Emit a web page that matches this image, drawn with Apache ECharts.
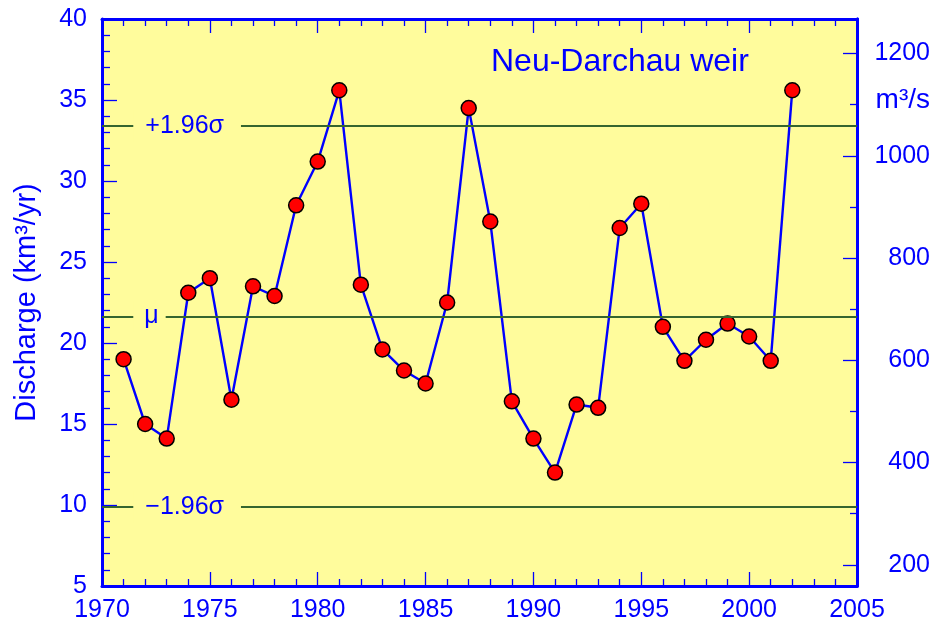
<!DOCTYPE html>
<html>
<head>
<meta charset="utf-8">
<script src="https://cdn.jsdelivr.net/npm/echarts@6/dist/echarts.min.js"></script>
<style>
  html, body { margin: 0; padding: 0; background: #ffffff; }
  #chart { width: 934px; height: 623px; }
</style>
</head>
<body>
<div id="chart"></div>
<script>
// Annual discharge of the Elbe at the Neu-Darchau weir (km³/yr)
const years = [1971, 1972, 1973, 1974, 1975, 1976, 1977, 1978, 1979, 1980,
               1981, 1982, 1983, 1984, 1985, 1986, 1987, 1988, 1989, 1990,
               1991, 1992, 1993, 1994, 1995, 1996, 1997, 1998, 1999, 2000,
               2001, 2002];
const discharge = [19.0, 15.0, 14.1, 23.1, 24.0, 16.5, 23.5, 22.9, 28.5, 31.2,
                   35.6, 23.6, 19.6, 18.3, 17.5, 22.5, 34.5, 27.5, 16.4, 14.1,
                   12.0, 16.2, 16.0, 27.1, 28.6, 21.0, 18.9, 20.2, 21.2, 20.4,
                   18.9, 35.6];

// Long-term mean and ±1.96σ bounds
const refLevels = [33.40, 21.64, 9.88];
const refNames = ['+1.96σ', 'μ', '−1.96σ'];
const refLabelYear = 1971.45;

// Axis ranges
const xMin = 1970, xMax = 2005, xStep = 5;
const yMin = 5, yMax = 40, yStep = 5;
// 1 km³/yr expressed in m³/s
const KM3YR_TO_M3S = 1e9 / (365.25 * 86400);
const flowMajorTicks = [200, 400, 600, 800, 1000, 1200];
const flowMinorTicks = [300, 500, 700, 900, 1100];
const flowUnitAt = 1100;

const BLUE = '#0000ff';
const PLOT_BG = '#fffc9c';
const FONT = '"Liberation Sans", Arial, Helvetica, sans-serif';
const plain = v => String(Math.round(v));

const chart = echarts.init(document.getElementById('chart'), null, { renderer: 'canvas' });

const xCommon = {
  type: 'value', min: xMin, max: xMax, interval: xStep,
  axisLine: { show: true, onZero: false, lineStyle: { color: BLUE, width: 3 } },
  axisTick: { show: true, inside: true, length: 14, lineStyle: { color: BLUE, width: 1.3 } },
  minorTick: { show: true, splitNumber: 5, length: 7, lineStyle: { color: BLUE, width: 1.3 } },
  splitLine: { show: false }, minorSplitLine: { show: false }
};

const flowAxisBase = {
  type: 'value', position: 'right',
  min: yMin * KM3YR_TO_M3S, max: yMax * KM3YR_TO_M3S,
  axisLine: { show: true, onZero: false, lineStyle: { color: BLUE, width: 3 } },
  splitLine: { show: false }
};

chart.setOption({
  animation: false,
  backgroundColor: '#ffffff',
  title: {
    text: 'Neu-Darchau weir',
    left: 486, top: 41,
    textStyle: { color: BLUE, fontSize: 32, fontWeight: 'normal', fontFamily: FONT }
  },
  grid: {
    left: 102, right: 77, top: 19, bottom: 37,
    show: true, backgroundColor: PLOT_BG, borderWidth: 0,
    containLabel: false, outerBoundsMode: 'none'
  },
  xAxis: [
    Object.assign({}, xCommon, {
      position: 'bottom',
      axisLabel: { show: true, color: BLUE, fontSize: 25, fontFamily: FONT, margin: 12, formatter: plain }
    }),
    Object.assign({}, xCommon, {
      position: 'top',
      axisLabel: { show: false }
    })
  ],
  yAxis: [
    {
      type: 'value', position: 'left', min: yMin, max: yMax, interval: yStep,
      name: 'Discharge (km³/yr)', nameLocation: 'middle', nameRotate: 90, nameGap: 61,
      nameTextStyle: { color: BLUE, fontSize: 29, fontFamily: FONT },
      axisLine: { show: true, onZero: false, lineStyle: { color: BLUE, width: 3 } },
      axisTick: { show: true, inside: true, length: 15, lineStyle: { color: BLUE, width: 1.3 } },
      minorTick: { show: true, splitNumber: 5, length: 8, lineStyle: { color: BLUE, width: 1.3 } },
      axisLabel: { show: true, color: BLUE, fontSize: 25, fontFamily: FONT, margin: 15, formatter: plain },
      splitLine: { show: false }, minorSplitLine: { show: false }
    },
    Object.assign({}, flowAxisBase, {
      axisTick: { show: true, inside: true, length: 14, customValues: flowMajorTicks,
                  lineStyle: { color: BLUE, width: 1.3 } },
      axisLabel: { show: true, customValues: flowMajorTicks, color: BLUE, fontSize: 25,
                   fontFamily: FONT, align: 'right', margin: 73, formatter: plain }
    }),
    Object.assign({}, flowAxisBase, {
      axisTick: { show: true, inside: true, length: 7, customValues: flowMinorTicks,
                  lineStyle: { color: BLUE, width: 1.3 } },
      axisLabel: {
        show: true, customValues: [flowUnitAt], align: 'right', margin: 73,
        formatter: () => '{u|m³/s}',
        rich: { u: { color: BLUE, fontSize: 28, fontFamily: FONT, padding: [0, 0, 8, 0] } }
      }
    })
  ],
  series: [
    {
      // reference levels
      type: 'line', data: [], z: 1, silent: true,
      markLine: {
        silent: true, symbol: 'none', animation: false,
        label: { show: false },
        lineStyle: { color: '#35652f', width: 2.2, type: 'solid' },
        data: refLevels.map(v => ({ yAxis: v }))
      }
    },
    {
      // labels sitting in gaps of the reference lines
      type: 'scatter', z: 6, silent: true,
      symbol: 'rect', symbolSize: 1,
      itemStyle: { color: 'transparent', opacity: 1 },
      data: refLevels.map((v, i) => ({
        value: [refLabelYear, v],
        label: { padding: refNames[i] === 'μ' ? [3, 7, 3, 11] : [3, 17, 3, 12] }
      })),
      label: {
        show: true, position: 'inside', align: 'left', verticalAlign: 'middle',
        formatter: p => refNames[p.dataIndex],
        color: BLUE, fontSize: 25, fontFamily: FONT, opacity: 1,
        backgroundColor: PLOT_BG
      },
      emphasis: { disabled: true }
    },
    {
      // annual discharge
      type: 'line', z: 4,
      data: years.map((y, i) => [y, discharge[i]]),
      symbol: 'circle', symbolSize: 15, showSymbol: true,
      lineStyle: { color: BLUE, width: 2.4 },
      itemStyle: { color: '#ff0000', borderColor: '#000000', borderWidth: 1.5 }
    }
  ]
});
</script>
</body>
</html>
